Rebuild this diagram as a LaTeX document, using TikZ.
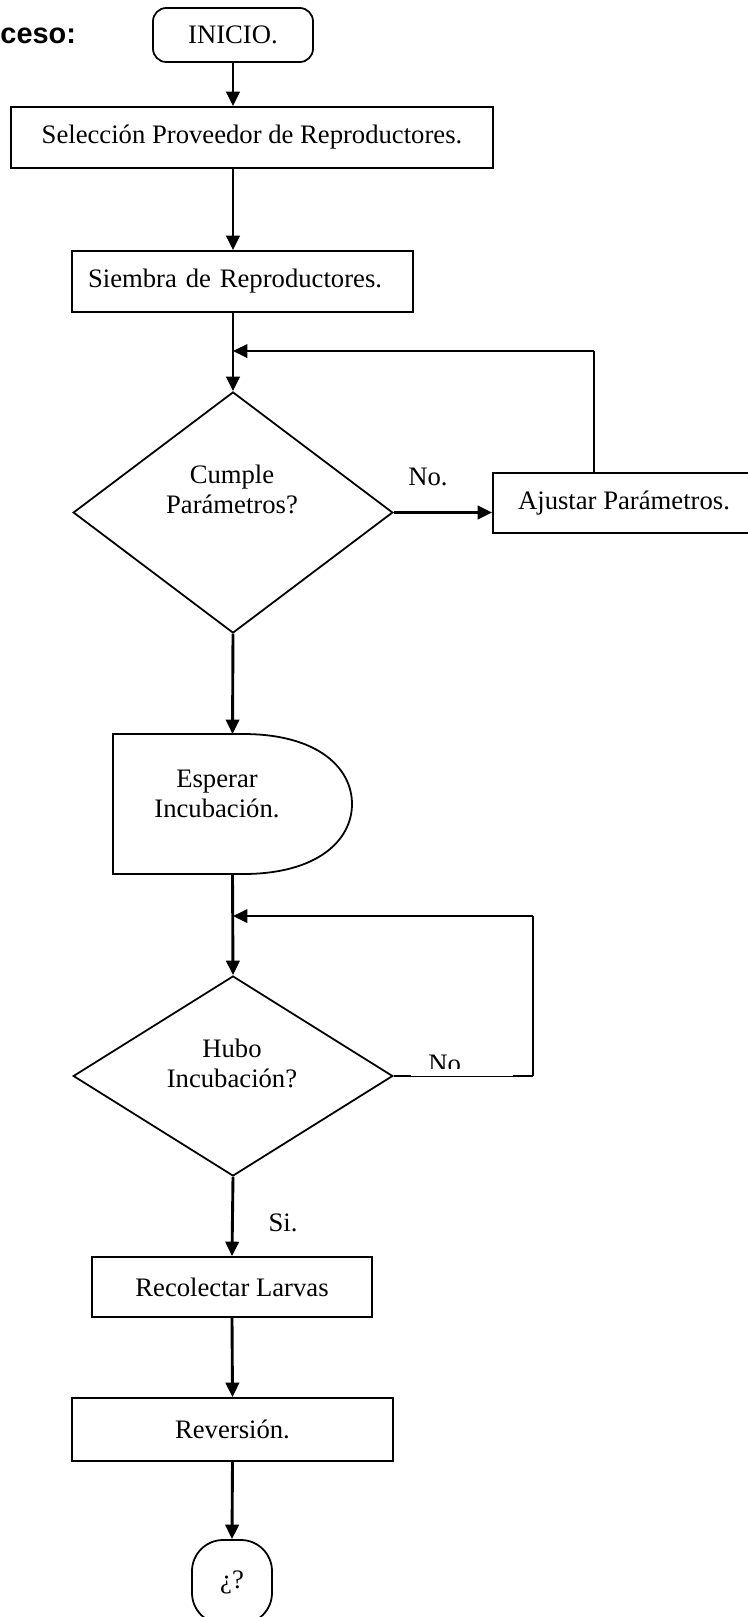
\documentclass[tikz,border=0pt]{standalone}
\usepackage{fontspec}
\setmainfont{Liberation Serif}
\newfontfamily\titulofont{Liberation Sans}
\usetikzlibrary{shapes.geometric,arrows.meta}
\newcommand{\texto}{\fontsize{12}{13.5}\selectfont}

\begin{document}
\begin{tikzpicture}[x=0.45pt,y=-0.45pt,
    caja/.style={draw,line width=0.8pt,rectangle,inner sep=0pt,font=\texto},
    rombo/.style={draw,line width=0.8pt,diamond,inner sep=0pt},
    flecha/.style={line width=1.3pt,-{Triangle[length=6.5pt,width=6pt]}},
    linea/.style={line width=1.3pt},
    etiq/.style={font=\texto,align=center}]
  \useasboundingbox (0,0) rectangle (748,1617);
  % titulo
  \node[anchor=base west,inner xsep=0pt,font=\titulofont\bfseries\fontsize{13}{15}\selectfont] (titulo) at (0,43) {ceso:};
  % cajas
  \node[caja,rounded corners=6pt,minimum width=72pt,minimum height=24.3pt] (ini) at (233,35) {INICIO.};
  \node[caja,minimum width=216.7pt,minimum height=27.45pt] (sel) at (252,137.5) {Selección Proveedor de Reproductores.};
  \node[caja,text width=139pt,align=left,inner xsep=7.2pt,minimum height=27.45pt] (sie) at (242.5,281.5) {Siembra de Reproductores.};
  \node[rombo,minimum width=143.8pt,minimum height=108.5pt] (cump) at (233,512.5) {};
  \node[etiq] (cumpt) at (232,489) {Cumple\\Parámetros?};
  \node[caja,minimum width=117.9pt,minimum height=27pt] (ajus) at (624,503) {Ajustar Parámetros.};
  \node[inner sep=0pt,outer sep=0pt,minimum width=107.55pt,minimum height=63pt] (esp) at (232.5,804) {};
  \draw[line width=0.8pt] (esp.north west) -- (243,734) .. controls (318,734) and (352,768) .. (esp.east)
    .. controls (352,840) and (318,874) .. (243,874) -- (esp.south west) -- cycle;
  \node[etiq] (espt) at (217,794) {Esperar\\Incubación.};
  \node[rombo,minimum width=143.8pt,minimum height=90pt] (hubo) at (233,1076) {};
  \node[etiq] (hubot) at (232,1063) {Hubo\\Incubación?};
  \node[caja,minimum width=126pt,minimum height=27pt] (rec) at (232,1287) {Recolectar Larvas};
  \node[caja,minimum width=144.5pt,minimum height=28.35pt] (rev) at (232.5,1429.5) {Reversión.};
  \node[caja,rounded corners=14pt,minimum width=36pt,minimum height=37.8pt] (fin) at (232,1582) {¿?};
  % etiquetas
  \node[font=\texto] (no1) at (428,477) {No.};
  \node[font=\texto] (si) at (283,1223) {Si.};
  \begin{scope}
    \clip (405,1040) rectangle (520,1068);
    \node[font=\texto,anchor=base] (no2) at (448,1072) {No.};
  \end{scope}
  % flechas
  \draw[flecha] (ini.south) -- (ini.south |- sel.north);
  \draw[flecha] (ini.south |- sel.south) -- (ini.south |- sie.north);
  \draw[flecha] (ini.south |- sie.south) -- (cump.north);
  \draw[flecha] (cump.east) -- (cump.east -| ajus.west);
  \coordinate (vuelta1) at (594,351);
  \draw[line width=0.8pt] (ajus.north -| vuelta1) -- (vuelta1);
  \draw[flecha] (vuelta1) -- (vuelta1 -| cump.north);
  \draw[flecha] (cump.south) -- (esp.north);
  \draw[flecha] (esp.south) -- (hubo.north);
  \coordinate (vuelta2) at (533,916);
  \coordinate (esq2) at (533,1076);
  \coordinate (cortea) at (411,1076);
  \coordinate (corteb) at (513,1076);
  \draw[linea] (hubo.east) -- (cortea);
  \draw[line width=0.4pt] (cortea) -- (corteb);
  \draw[linea] (corteb) -- (esq2);
  \draw[line width=0.9pt] (esq2) -- (vuelta2);
  \draw[flecha] (vuelta2) -- (vuelta2 -| hubo.north);
  \draw[flecha] (hubo.south) -- (rec.north);
  \draw[flecha] (rec.south) -- (rev.north);
  \draw[flecha] (rev.south) -- (fin.north);
\end{tikzpicture}
\end{document}
